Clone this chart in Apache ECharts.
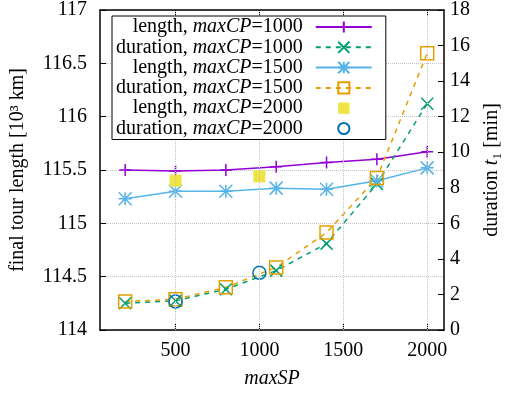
<!DOCTYPE html>
<html>
<head>
<meta charset="utf-8">
<script src="https://cdn.jsdelivr.net/npm/echarts@6/dist/echarts.min.js"></script>
<style>
html, body { margin: 0; padding: 0; background: #fff; }
#main { width: 510px; height: 394px; }
</style>
</head>
<body>
<div id="main"></div>
<script>
// x ticks / data
var xTicks = [500, 1000, 1500, 2000];
var maxSP = [200, 500, 800, 1100, 1400, 1700, 2000];
var maxSP2000 = [500, 1000];
// final tour length [10^3 km]
var len1000 = [115.50, 115.49, 115.50, 115.53, 115.57, 115.60, 115.67];
var len1500 = [115.23, 115.30, 115.30, 115.33, 115.32, 115.40, 115.52];
var len2000 = [115.40, 115.44];
// duration t1 [min]
var dur1000 = [1.51, 1.64, 2.29, 3.34, 4.86, 8.22, 12.73];
var dur1500 = [1.60, 1.73, 2.40, 3.52, 5.48, 8.55, 15.57];
var dur2000 = [1.60, 3.22];

var FONT = "'Liberation Serif', 'DejaVu Serif', serif";
var GRID = { color: '#c4c4c4', type: 'dotted', width: 1 };
var FRAME = { show: true, lineStyle: { color: '#000', width: 1.5 } };

function pairs(xs, ys) {
    return xs.map(function (x, i) { return [x, ys[i]]; });
}

// gnuplot style point types
var symPlus = 'path://M0,-1L0,1M-1,0L1,0';
var symCross = 'path://M-1,-1L1,1M-1,1L1,-1';
var symStar = 'path://M0,-1L0,1M-1,0L1,0M-1,-1L1,1M-1,1L1,-1';

function mkSeries(name, yIdx, data, color, symbol, size, dashed, noLine, filled) {
    return {
        name: name,
        type: 'line',
        yAxisIndex: yIdx,
        data: data,
        symbol: symbol,
        symbolSize: size,
        showAllSymbol: true,
        animation: false,
        lineStyle: {
            color: color,
            width: noLine ? 0 : 1.5,
            opacity: noLine ? 0 : 1,
            type: dashed ? [5, 5] : 'solid'
        },
        itemStyle: {
            color: filled ? color : 'none',
            borderColor: color,
            borderWidth: filled ? 0 : 1.5
        },
        emphasis: { disabled: true }
    };
}

var series = [
    mkSeries('length, maxCP=1000', 0, pairs(maxSP, len1000), '#9400d3', symPlus, 12, false, false, false),
    mkSeries('duration, maxCP=1000', 1, pairs(maxSP, dur1000), '#009e73', symCross, 12, true, false, false),
    mkSeries('length, maxCP=1500', 0, pairs(maxSP, len1500), '#56b4e9', symStar, 13, false, false, false),
    mkSeries('duration, maxCP=1500', 1, pairs(maxSP, dur1500), '#e69f00', 'rect', 13, true, false, false),
    mkSeries('length, maxCP=2000', 0, pairs(maxSP2000, len2000), '#f0e442', 'rect', 12, false, true, true),
    mkSeries('duration, maxCP=2000', 1, pairs(maxSP2000, dur2000), '#0072b2', 'circle', 13, false, true, false)
];
// vertical grid lines at the x ticks
series[0].markLine = {
    silent: true,
    symbol: 'none',
    label: { show: false },
    lineStyle: GRID,
    emphasis: { disabled: true },
    data: xTicks.map(function (v) { return { xAxis: v }; })
};

var myChart = echarts.init(document.getElementById('main'));

myChart.setOption({
    backgroundColor: '#fff',
    animation: false,
    textStyle: { fontFamily: FONT, color: '#000' },
    grid: {
        left: 99, right: 61, top: 10, bottom: 62,
        show: false
    },
    legend: {
        orient: 'vertical',
        align: 'right',
        left: 112,
        top: 16,
        itemWidth: 56,
        itemHeight: 14,
        itemGap: 0.3,
        padding: [1, 13, 1, 4],
        borderColor: '#000',
        borderWidth: 1,
        backgroundColor: '#fff',
        selectedMode: false,
        z: 10,
        formatter: function (name) {
            return name.replace('maxCP', '{i|maxCP}');
        },
        textStyle: {
            fontFamily: FONT,
            fontSize: 20,
            lineHeight: 20,
            color: '#000',
            padding: [0, 8, 0, 0],
            rich: {
                i: { fontFamily: FONT, fontSize: 20, fontStyle: 'italic', color: '#000' }
            }
        }
    },
    xAxis: [{
        type: 'value',
        min: 50,
        max: 2100,
        name: 'maxSP',
        nameLocation: 'middle',
        nameGap: 39,
        nameTextStyle: { fontFamily: FONT, fontSize: 20, fontStyle: 'italic', color: '#000' },
        axisLine: FRAME,
        axisTick: { show: true, inside: true, length: 6, customValues: xTicks, lineStyle: { color: '#000' } },
        axisLabel: {
            customValues: xTicks, fontFamily: FONT, fontSize: 20, color: '#000', margin: 11,
            formatter: function (v) { return String(v); }
        },
        splitLine: { show: false }
    }, {
        type: 'value',
        position: 'top',
        min: 50,
        max: 2100,
        axisLine: FRAME,
        axisTick: { show: true, inside: true, length: 6, customValues: xTicks, lineStyle: { color: '#000' } },
        axisLabel: { show: false, customValues: xTicks },
        splitLine: { show: false }
    }],
    yAxis: [{
        type: 'value',
        min: 114,
        max: 117,
        interval: 0.5,
        name: 'final tour length [10³ km]',
        nameLocation: 'middle',
        nameGap: 72,
        nameRotate: 90,
        nameTextStyle: { fontFamily: FONT, fontSize: 20, color: '#000' },
        axisLine: FRAME,
        axisTick: { show: true, inside: true, length: 6, lineStyle: { color: '#000' } },
        axisLabel: { fontFamily: FONT, fontSize: 20, color: '#000', margin: 13 },
        splitLine: { show: true, lineStyle: GRID }
    }, {
        type: 'value',
        position: 'right',
        min: 0,
        max: 18,
        interval: 2,
        name: 'duration {i|t}₁ [min]',
        nameLocation: 'middle',
        nameGap: 38,
        nameRotate: 90,
        nameTextStyle: {
            fontFamily: FONT, fontSize: 20, color: '#000',
            rich: { i: { fontFamily: FONT, fontSize: 20, fontStyle: 'italic', color: '#000' } }
        },
        axisLine: FRAME,
        axisTick: { show: true, inside: true, length: 6, lineStyle: { color: '#000' } },
        axisLabel: { fontFamily: FONT, fontSize: 20, color: '#000', margin: 6 },
        splitLine: { show: false }
    }],
    series: series
});
</script>
</body>
</html>
